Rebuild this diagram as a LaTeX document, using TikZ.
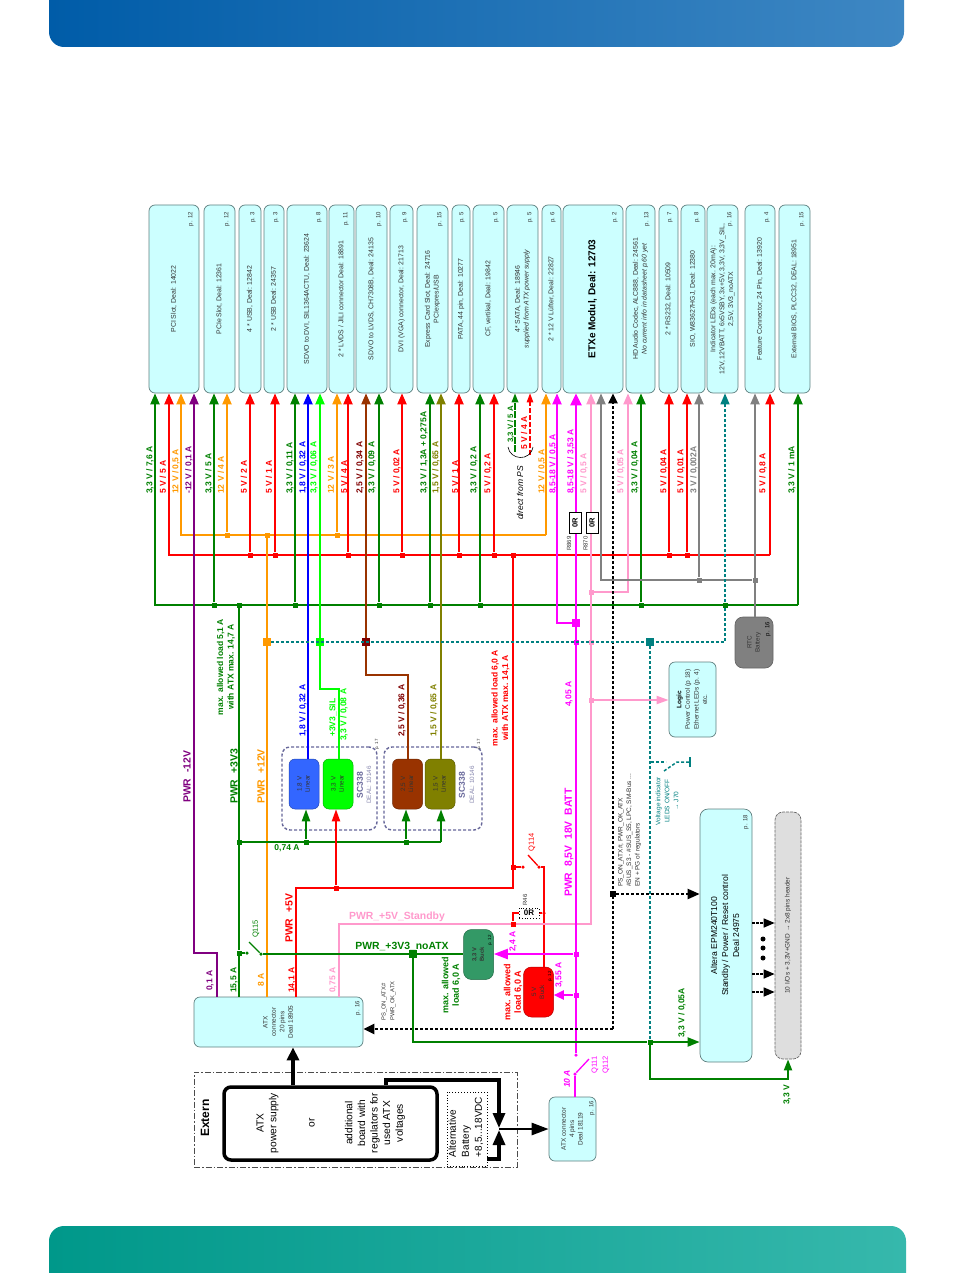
\documentclass[tikz,border=0pt]{standalone}
\usepackage{fontspec}
\setmainfont{Liberation Sans}
\usetikzlibrary{arrows.meta}
\definecolor{cG}{HTML}{008000}
\definecolor{cR}{HTML}{FF0000}
\definecolor{cO}{HTML}{FF9900}
\definecolor{cP}{HTML}{800080}
\definecolor{cB}{HTML}{0000FF}
\definecolor{cL}{HTML}{00FF00}
\definecolor{cBr}{HTML}{993300}
\definecolor{cDr}{HTML}{800000}
\definecolor{cOl}{HTML}{808000}
\definecolor{cM}{HTML}{FF00FF}
\definecolor{cK}{HTML}{FF99CC}
\definecolor{cY}{HTML}{808080}
\definecolor{cT}{HTML}{008080}
\definecolor{cFill}{HTML}{CCFFFF}
\definecolor{cEdge}{HTML}{5F7F7F}
\definecolor{cTxt}{HTML}{333333}
\definecolor{cSc}{HTML}{666699}
\definecolor{cRb}{HTML}{3366FF}
\definecolor{cSea}{HTML}{339966}
\definecolor{bnA}{HTML}{005CA8}
\definecolor{bnB}{HTML}{3E87C3}
\definecolor{bnC}{HTML}{00988A}
\definecolor{bnD}{HTML}{36B8AC}
\newcounter{lc}
\newcommand\fsz[2]{\fontsize{#1}{#2}\selectfont}
\newcommand\vt[1]{\rotatebox{90}{\begin{tabular}{@{}c@{}}#1\end{tabular}}}
\tikzset{
  box/.style={draw=cEdge,line width=0.7,fill=cFill,rounded corners=6,inner sep=0,text=cTxt,font=\fsz{6.9}{8.8}},
  wire/.style={line width=2,line join=miter},
  tip/.style={-{Triangle[length=11,width=9]}},
  jsq/.style={fill=#1,inner sep=0,minimum size=5,rectangle},
  jbig/.style={fill=#1,inner sep=0,minimum size=7.5,rectangle},
  jdot/.style={fill=#1,inner sep=0,minimum size=3.5,circle},
  vlab/.style={rotate=90,anchor=west,inner sep=0,font=\fsz{8.5}{10}\bfseries},
  vlabc/.style={rotate=90,anchor=center,inner sep=0,font=\fsz{8.5}{10.5}\bfseries,align=center},
  plab/.style={rotate=90,anchor=east,inner sep=0,font=\fsz{6}{7},text=cTxt},
  tdash/.style={draw=cT,line width=1.5,dash pattern=on 3 off 2},
  kdash/.style={draw=black,line width=2.2,dash pattern=on 3 off 2},
  reg/.style={draw=#1!70!black,line width=0.5,fill=#1,rounded corners=6,inner sep=0,minimum width=30,minimum height=50,text=black!80,font=\fsz{6.3}{8}},
  scbox/.style={draw=cSc,line width=1.4,dash pattern=on 3 off 2,rounded corners=8,inner sep=0},
  zeroR/.style={draw=black,line width=1,fill=white,inner sep=0,font=\fsz{7.5}{9}\bfseries,rotate=90,minimum width=21,minimum height=12},
  gtxt/.style={rotate=90,anchor=center,inner sep=0,font=\fsz{6}{8},text=cTxt,align=left}
}
\newcommand\topbox[5]{%
  \node[box,minimum width={(#3-#2)*1pt},minimum height=188] (#1) at ({(#2+#3)/2},299) {#5};
  \node[plab] (#1p) at ({#3-8},212) {p. #4};
}
\newcommand\vl[4]{\stepcounter{lc}\node[vlab,text=#1] (v\arabic{lc}) at (#2,#3) {#4};}
\begin{document}
\begin{tikzpicture}[x=1pt,y=-1pt]
\useasboundingbox (0,0) rectangle (955,1273);
% banners
\shade[left color=bnA,right color=bnB]
  (49,0) [rounded corners=15] -- (49,47) -- (904,47) [sharp corners] -- (904,0) -- cycle;
\shade[left color=bnC,right color=bnD]
  (49,1273) [rounded corners=15] -- (49,1226) -- (906,1226) [sharp corners] -- (906,1273) -- cycle;

% top boxes
\topbox{pci}{149}{199}{12}{\vt{PCI Slot, Deal: 14022}}
\topbox{pcie}{204}{235}{12}{\vt{PCIe Slot, Deal: 12361}}
\topbox{usba}{239}{261}{3}{\vt{4 * USB, Deal: 12842}}
\topbox{usbb}{264}{284}{3}{\vt{2 * USB Deal: 24357}}
\topbox{sdvo}{287}{327}{8}{\vt{SDVO to DVI, SIL1364ACTU, Deal: 23624}}
\topbox{lvds}{329}{354}{11}{\vt{2 * LVDS / JILI connector Deal: 18891}}
\topbox{slvds}{356}{387}{10}{\vt{SDVO to LVDS, CH7308B, Deal: 24135}}
\topbox{dvi}{390}{413}{9}{\vt{DVI (VGA) connector, Deal: 21713}}
\topbox{exp}{417}{448}{15}{\vt{Express Card Slot, Deal: 24716\\PCIexpres/USB}}
\topbox{pata}{452}{470}{5}{\vt{PATA, 44 pin, Deal: 10277}}
\topbox{cf}{473}{504}{5}{\vt{CF, vertikal, Deal: 19842}}
\topbox{sata}{507}{538}{5}{\vt{4* SATA, Deal: 18946\\ \itshape supplied from ATX power supply}}
\topbox{fan}{542}{561}{6}{\vt{2 * 12 V Lüfter, Deal: 22827}}
\topbox{etx}{563}{623}{2}{\vt{\fsz{10}{12}\bfseries\color{black}ETXe Modul, Deal: 12703}}
\topbox{hd}{626}{655}{13}{\vt{HD Audio Codec, ALC888, Deal: 24561\\ \itshape No current info in datasheet p.60 yet}}
\topbox{rs}{659}{678}{7}{\vt{2 * RS232, Deal: 10509}}
\topbox{sio}{681}{705}{8}{\vt{SIO, W83627HGJ, Deal: 12380}}
\topbox{ind}{707}{738}{16}{\vt{Indicator LEDs (each max. 20mA):\\12V, 12VBATT, 6x5VSBY, 3x+5V, 3,3V, 3,3V\_SIL,\\2,5V, 3V3\_noATX}}
\topbox{feat}{745}{775}{4}{\vt{Feature Connector, 24 Pin, Deal: 13920}}
\topbox{bios}{779}{810}{15}{\vt{External BIOS, PLCC32, DEAL: 18951}}

% lower boxes
\node[box,minimum width=169,minimum height=50,font=\fsz{6.5}{8.4}] (atx) at (278.5,1022) {\vt{ATX\\connector\\20 pins\\Deal 18905}};
\node[plab] (atxp) at (358,1001) {p. 16};
\node[box,minimum width=47,minimum height=64,font=\fsz{6.5}{8.4}] (atxb) at (572.5,1129) {\vt{ATX connector\\4 pins\\Deal 18119}};
\node[plab] (atxbp) at (592,1101) {p. 16};
\node[box,minimum width=47,minimum height=75,font=\fsz{6.5}{8.6}] (logic) at (692.5,699.5) {\vt{\bfseries\color{black}Logic\\Power Control (p 18)\\Ethernet LEDs (p. 4)\\etc.}};
\node[box,fill=cY,draw=black!60,minimum width=38,minimum height=51,rounded corners=8,font=\fsz{6.3}{8}] (rtc) at (754,642.5) {\vt{RTC\\Battery}};
\node[plab,text=black] (rtcp) at (768,622) {p. 16};
\node[box,minimum width=52,minimum height=253,rounded corners=8,font=\fsz{8.6}{11},text=black] (epm) at (726,935.5) {\vt{Altera EPM240T100\\Standby / Power / Reset control\\Deal 24975}};
\node[plab] (epmp) at (746,815) {p. 18};
\node[draw=black!60,line width=0.7,dash pattern=on 3 off 1,fill=black!13,rounded corners=8,inner sep=0,minimum width=26,minimum height=247,text=cTxt,font=\fsz{6.5}{8}] (hdr) at (788,935.5) {\vt{10 I/Os + 3,3V+GND → 2x8 pins header}};

% regulators
\node[reg=cRb] (r18) at (304,784) {\vt{1,8 V\\Linear}};
\node[reg=cL] (r33) at (338,784) {\vt{3,3 V\\Linear}};
\node[reg=cBr] (r25) at (407.5,784) {\vt{2,5 V\\Linear}};
\node[reg=cOl] (r15) at (440,784) {\vt{1,5 V\\Linear}};
\node[scbox,minimum width=95,minimum height=83] (sca) at (329.5,788.5) {};
\node[scbox,minimum width=98,minimum height=83] (scb) at (433,788.5) {};
\node[rotate=90,inner sep=0,text=cSc,font=\fsz{8.5}{10}\bfseries] (sca1) at (360,785) {SC338};
\node[rotate=90,inner sep=0,text=cSc!80,font=\fsz{6.3}{8}] (sca2) at (369,785) {DEAL: 10146};
\node[rotate=90,inner sep=0,text=cSc,font=\fsz{8.5}{10}\bfseries] (scb1) at (462,785) {SC338};
\node[rotate=90,inner sep=0,text=cSc!80,font=\fsz{6.3}{8}] (scb2) at (472,785) {DEAL: 10146};
\node[plab,font=\fsz{4.5}{5}] (scap) at (377,739) {p. 17};
\node[plab,font=\fsz{4.5}{5}] (scbp) at (479,739) {p. 17};
\node[reg=cSea,font=\fsz{5.8}{7.5}\bfseries,rounded corners=8] (bk33) at (478.5,954.5) {\vt{3,3 V\\Buck}};
\node[reg=cR,font=\fsz{6.3}{8},rounded corners=8] (bk5) at (538.5,992) {\vt{5 V\\Buck}};
\node[plab,font=\fsz{4.5}{5},text=black] (bk33p) at (490,935) {p. 12};
\node[plab,font=\fsz{4.5}{5},text=black] (bk5p) at (550,971) {p. 12};

% Extern
\node[draw=black!70,line width=0.8,dash pattern=on 6 off 2 on 1.5 off 2,inner sep=0,minimum width=323,minimum height=95] (ext) at (355.5,1119.5) {};
\node[draw=black,line width=3.5,rounded corners=7,inner sep=0,minimum width=213,minimum height=73] (psu) at (330.5,1123.5) {};
\node[draw=black,line width=0.9,dotted,inner sep=0,minimum width=40,minimum height=74] (alt) at (467,1129) {};
\node[rotate=90,inner sep=0,font=\fsz{12}{14}\bfseries] (extl) at (205,1118) {Extern};
\node[rotate=90,inner sep=0,align=center,font=\fsz{10.2}{12.6}] (pa) at (267.5,1123) {ATX\\power supply};
\node[rotate=90,inner sep=0,font=\fsz{10.2}{12.6}] (pb) at (312,1123) {or};
\node[rotate=90,inner sep=0,align=center,font=\fsz{10.2}{12.6}] (pc) at (375,1123) {additional\\board with\\regulators for\\used ATX\\voltages};
\node[rotate=90,inner sep=0,align=left,anchor=center,font=\fsz{10}{13}] (pd) at (466,1127) {Alternative\\Battery\\+8,5...18VDC};
% black power lines
\coordinate (ea) at (293,1060);
\draw[black,line width=3.6,-{Triangle[length=13,width=12]}] (ea |- psu.north) -- (ea |- atx.south);
\coordinate (e1) at (386,1080); \coordinate (e2) at (499,1080); \coordinate (e3) at (499,1129);
\coordinate (e4) at (487,1159); \coordinate (e5) at (499,1159);
\draw[black,line width=3.2,-{Triangle[length=15,width=12]}] (e1 |- psu.north) -- (e1) -- (e2) -- (499,1128);
\draw[black,line width=3.2,-{Triangle[length=15,width=12]}] (e4) -- (e5) -- (499,1130);
\draw[black,line width=2.6,-{Triangle[length=17,width=12]}] (e3) -- (e3 -| atxb.west);

% buses
\coordinate (oL) at (181,535); \coordinate (oR) at (546,535);
\coordinate (rL) at (169,555); \coordinate (rR) at (770,555);
\coordinate (gL) at (155,605); \coordinate (gR) at (798,605);
\draw[wire,cG,tip] (gR) -- (gL) -- (gL |- pci.south);
\draw[wire,cG,tip] (gL -| gR) -- (gR |- bios.south);
\draw[wire,cR,tip] (rR) -- (rL) -- (rL |- pci.south);
\draw[wire,cR,tip] (rL -| rR) -- (rR |- feat.south);
\draw[wire,cO,tip] (oR) -- (oL) -- (oL |- pci.south);
\draw[wire,cO,tip] (oL -| oR) -- (oR |- fan.south);

% purple
\coordinate (pu1) at (194,953); \coordinate (pu2) at (217,953);
\draw[wire,cP,tip] (pu2 |- atx.north) -- (pu2) -- (pu1) -- (pu1 |- pci.south);

% green taps
\foreach \n/\x/\b in {ga/214/pcie,gb/295/sdvo,gc/379/slvds,gd/430/exp,ge/480/cf,gf/641/hd}{
  \node[jsq=cG] (\n) at (\x,605) {};
  \draw[wire,cG,tip] (\n) -- (\n |- \b.south);
}
\node[jsq=cG] (gv) at (239,605) {};
\node[jsq=cG] (gs) at (239,953) {};
\node[jsq=cG] (g74) at (239,842) {};
\draw[wire,cG] (gv) -- (gs) -- (gs |- atx.north);
% red taps
\foreach \n/\x/\b in {ra/250/usba,rb/275/usbb,rc/348/lvds,rd/402/dvi,re/459/pata,rf/494/cf,rg/669/rs,rh/687/sio}{
  \node[jsq=cR] (\n) at (\x,555) {};
  \draw[wire,cR,tip] (\n) -- (\n |- \b.south);
}
% orange taps
\foreach \n/\x/\b in {oa/227/pcie,ob/337/lvds}{
  \node[jsq=cO] (\n) at (\x,535) {};
  \draw[wire,cO,tip] (\n) -- (\n |- \b.south);
}
\node[jsq=cO] (oc) at (267,535) {};
\draw[wire,cO] (oc) -- (oc |- atx.north);

% blue, lime, brown, olive
\coordinate (bl) at (308,500);
\draw[wire,cB,tip] (bl |- r18.north) -- (bl |- sdvo.south);
\coordinate (l1) at (320,689); \coordinate (l2) at (339,689);
\draw[wire,cL,tip] (l2 |- r33.north) -- (l2) -- (l1) -- (l1 |- sdvo.south);
\coordinate (b1) at (366,675); \coordinate (b2) at (408,675);
\draw[wire,cBr,tip] (b2 |- r25.north) -- (b2) -- (b1) -- (b1 |- slvds.south);
\coordinate (ol) at (441,500);
\draw[wire,cOl,tip] (ol |- r15.north) -- (ol |- exp.south);

% 0,74 A
\node[jsq=cG] (t1) at (306,842) {};
\node[jsq=cG] (t2) at (406,842) {};
\coordinate (t3) at (441,842);
\draw[wire,cG] (g74) -- (t3);
\draw[wire,cG,line width=2.2,-{Triangle[length=12,width=8]}] (t1) -- (t1 |- r18.south);
\draw[wire,cG,line width=2.2,-{Triangle[length=12,width=8]}] (t2) -- (t2 |- r25.south);
\draw[wire,cG,line width=2.2,-{Triangle[length=12,width=8]}] (t3) -- (t3 |- r15.south);

% red +5V
\coordinate (v1) at (296,888); \coordinate (v2) at (513,888);
\node[jsq=cR] (v0) at (513,555) {};
\node[jsq=cR] (v3) at (336,888) {};
\node[jsq=cR] (v4) at (513,867) {};
\draw[wire,cR] (v1 |- atx.north) -- (v1) -- (v2) -- (v0);
\draw[wire,cR,line width=2,-{Triangle[length=12,width=8]}] (v3) -- (v3 |- r33.south);
\node[jdot=cR] (q1) at (523,867) {};
\node[jdot=cR] (q2) at (539,867) {};
\coordinate (q0) at (528,855);
\coordinate (q3) at (544,867);
\draw[wire,cR,line width=1.5] (v4) -- (q1);
\draw[wire,cR,line width=1.3] (q0) -- (q2);
\draw[wire,cR] (q2) -- (q3) -- (q3 |- bk5.north);

% pink standby
\coordinate (k1) at (339,924); \coordinate (k2) at (591,924);
\draw[wire,cK,tip] (k1 |- atx.north) -- (k1) -- (k2) -- (k2 |- etx.south);
\node[jsq=cK] (k3) at (591,592) {};
\coordinate (k4) at (628,592);
\draw[wire,cK,tip] (k3) -- (k4) -- (k4 |- hd.south);
\node[jsq=cK] (k6) at (591,700) {};
\draw[wire,cK,-{Triangle[length=12,width=8]}] (k6) -- (k6 -| logic.west);
\node[jsq=cR] (r460) at (513,924) {};
\node[jdot=cR] (r462) at (544,913) {};
\coordinate (r461) at (513,913);
\draw[wire,cR] (r460) -- (r461) -- (r462);
\node[draw=black,line width=0.8,dotted,fill=white,inner sep=0,minimum width=20,minimum height=10,font=\fsz{8}{9}\bfseries] (r46) at (529,913) {0R};
\node[rotate=90,inner sep=0,font=\fsz{6}{7},text=cTxt] (r46l) at (525,900) {R46};

% magenta
\node[jdot=cM] (m0) at (576,1055) {};
\coordinate (mT) at (576,500);
\draw[wire,cM,line width=2.6,-{Triangle[length=12,width=11]}] (m0) -- (mT |- etx.south);
\node[jbig=cM] (m1) at (576,623) {};
\coordinate (m2) at (557,623);
\draw[wire,cM,tip] (m1) -- (m2) -- (m2 |- fan.south);
\node[jsq=cM] (m4) at (576,954) {};
\node[jsq=cM] (m5) at (576,995) {};
\draw[wire,cM,line width=2.2,-{Triangle[length=14,width=10]}] (m4) -- (m4 -| bk33.east);
\draw[wire,cM,line width=2.2,-{Triangle[length=10,width=9]}] (m5) -- (m5 -| bk5.east);
\node[jdot=cM] (m6) at (575,1074) {};
\coordinate (m7) at (589,1059);
\draw[wire,cM,line width=1.3] (m6) -- (m7);
\draw[wire,cM,line width=2.2] (m6) -- (m6 |- atxb.north);

% gray
\coordinate (y1) at (601,580);
\node[jsq=cY] (y2) at (699,580) {};
\node[jsq=cY] (y3) at (755,580) {};
\draw[wire,cY,tip] (y3) -- (y1) -- (y1 |- etx.south);
\draw[wire,cY,tip] (y2) -- (y2 |- sio.south);
\draw[wire,cY,tip] (y3 |- rtc.north) -- (y3 |- feat.south);

% black dashed
\coordinate (kk1) at (613,1029);
\coordinate (kkT) at (613,500);
\draw[kdash,-{Triangle[length=10,width=9]}] (kk1 -| kkT) -- (kkT |- etx.south);
\draw[kdash,-{Triangle[length=11,width=10]}] (kk1) -- (kk1 -| atx.east);
\node[jsq=black,minimum size=6] (kk2) at (613,894) {};
\draw[kdash,-{Triangle[length=12,width=10]}] (kk2) -- (kk2 -| epm.west);

% green noATX
\node[jsq=cG] (gn) at (650,1042) {};
\node[jdot=cG] (gs2) at (247,953) {};
\node[jdot=cG] (qs2) at (261,954) {};
\coordinate (qs1) at (249,942);
\draw[wire,cG,line width=1.4] (gs) -- (gs2);
\draw[wire,cG,line width=1.4] (qs1) -- (qs2);
\node[jbig=cG] (nA) at (413,954) {};
\draw[wire,cG] (qs2) -- (nA) -- (bk33.west |- nA);
\coordinate (n1) at (413,1042);
\draw[wire,cG] (nA) -- (n1) -- (gn);
\draw[wire,cG,-{Triangle[length=12,width=9]}] (gn) -- (gn -| epm.west);
\coordinate (n2) at (650,1079); \coordinate (n3) at (788,1079);
\draw[wire,cG,-{Triangle[length=11,width=8]}] (gn) -- (n2) -- (n3) -- (n3 |- hdr.south);

% EPM outputs
\foreach \n/\y in {ea/923,eb/974,ec/992}{
  \coordinate (\n) at (752,\y);
  \draw[draw=black,line width=1.6,dash pattern=on 2.5 off 1.5,-{Triangle[length=11,width=9]}] (\n) -- (\n -| hdr.west);
}
\foreach \n/\y in {da/939,db/948,dc/958}{
  \node[jdot=black,minimum size=5] (\n) at (763,\y) {};
}

% teal dashed
\node[jbig=cO] (d1) at (267,642) {};
\node[jbig=cL] (d2) at (320,642) {};
\node[jbig=cDr] (d3) at (366,642) {};
\node[jsq=cM] (m3) at (576,642) {};
\node[jsq=cK] (k5) at (591,642) {};
\node[jbig=cT] (d4) at (650,642) {};
\coordinate (d5) at (725,642);
\node[jsq=cG] (d6) at (725,605) {};
\draw[tdash] (d1) -- (d5) -- (d6);
\draw[tdash,-{Triangle[length=11,width=9]}] (d6) -- (d6 |- ind.south);
\draw[tdash] (d4) -- (gn);
\coordinate (s1) at (651,762); \coordinate (s2) at (666,762); \coordinate (s3) at (664,771); \coordinate (s4) at (677,762); \coordinate (s5) at (690,762);
\coordinate (s6) at (690,757); \coordinate (s7) at (690,767);
\draw[tdash] (s1) -- (s2);
\draw[tdash] (s3) -- (s4) -- (s5);
\draw[cT,line width=1.3] (s6) -- (s7);

% SATA direct lines
\coordinate (sg) at (515,452); \coordinate (sr) at (530,455);
\draw[cG,line width=1.8,dash pattern=on 7 off 1.5,-{Triangle[length=9,width=6.5]}] (sg) -- (sg |- sata.south);
\draw[cR,line width=1.1,dash pattern=on 5 off 2,-{Triangle[length=9,width=6.5]}] (sr) -- (sr |- sata.south);
\draw[black,line width=0.6] (508,447) .. controls (510,460) and (530,462) .. (533,447);

% 0R resistors
\node[zeroR] (r869) at (575,522.5) {0R};
\node[zeroR] (r870) at (592,523) {0R};
\node[gtxt] (r869l) at (569,543.5) {R869};
\node[gtxt] (r870l) at (585.5,543.5) {R870};

% voltage labels
\vl{cG}{150}{494}{3,3 V / 7,6 A}
\vl{cR}{163}{494}{5 V / 5 A}
\vl{cO}{176}{494}{12 V / 0,5 A}
\vl{cP}{189}{494}{-12 V / 0,1 A}
\vl{cG}{209}{494}{3,3 V / 5 A}
\vl{cO}{221}{494}{12 V / 4 A}
\vl{cR}{244}{494}{5 V / 2 A}
\vl{cR}{269}{494}{5 V / 1 A}
\vl{cG}{290}{494}{3,3 V / 0,11 A}
\vl{cB}{303}{494}{1,8 V / 0,32 A}
\vl{cL}{314}{494}{3,3 V / 0,06 A}
\vl{cO}{331}{494}{12 V / 3 A}
\vl{cR}{344}{494}{5 V / 4 A}
\vl{cDr}{360}{494}{2,5 V / 0,34 A}
\vl{cG}{372}{494}{3,3 V / 0,09 A}
\vl{cR}{397}{494}{5 V / 0,02 A}
\vl{cG}{424}{494}{3,3 V / 1,3A + 0,275A}
\vl{cOl}{436}{494}{1,5 V / 0,65 A}
\vl{cR}{455}{494}{5 V / 1 A}
\vl{cG}{474}{494}{3,3 V / 0,2 A}
\vl{cR}{488}{494}{5 V / 0,2 A}
\node[vlab,text=cG,font=\fsz{7.8}{9}\bfseries] (sa1) at (511,443) {3,3 V / 5 A};
\vl{cR}{524}{450}{5 V / 4 A}
\vl{cO}{542}{494}{12 V / 0,5 A}
\vl{cM}{553}{494}{8,5-18 V / 0,5 A}
\vl{cM}{571}{494}{8,5-18 V / 3,53 A}
\vl{cK}{584}{494}{5 V / 0,5 A}
\vl{cK}{621}{494}{5 V / 0,05 A}
\vl{cG}{635}{494}{3,3 V / 0,04 A}
\vl{cR}{664}{494}{5 V / 0,04 A}
\vl{cR}{681}{494}{5 V / 0,01 A}
\vl{cY}{694}{494}{3 V / 0,002A}
\vl{cR}{763}{494}{5 V / 0,8 A}
\vl{cG}{792}{494}{3,3 V / 1 mA}
\node[rotate=90,anchor=west,inner sep=0,font=\fsz{8.5}{10}\itshape] (dps) at (520,520) {direct from PS};

% lower voltage labels
\vl{cB}{303}{737}{1,8 V / 0,32 A}
\vl{cL}{333}{737}{+3V3\_SIL}
\vl{cL}{344}{741}{3,3 V / 0,08 A}
\vl{cDr}{402}{737}{2,5 V / 0,36 A}
\vl{cOl}{434}{737}{1,5 V / 0,65 A}
\vl{cM}{569}{707}{4,05 A}
\vl{cG}{234}{993}{15,5 A}
\vl{cO}{261}{987}{8 A}
\vl{cR}{292}{993}{14,1 A}
\vl{cK}{333}{993}{0,75 A}
\vl{cP}{210}{991}{0,1 A}
\vl{cM}{513}{952}{2,4 A}
\vl{cM}{559}{988}{3,55 A}
\vl{cG}{682}{1038}{3,3 V / 0,05A}
\vl{cG}{787}{1105}{3,3 V}
\node[vlab,text=cM,font=\fsz{8.5}{10}\bfseries\itshape] (l10a) at (567,1088) {10 A};
\node[vlabc,text=cG] (tmg) at (226,667) {max. allowed load 5,1 A\\with ATX max. 14,7 A};
\node[vlabc,text=cR] (tmr) at (500.5,698) {max. allowed load 6,0 A\\with ATX max. 14,1 A};
\node[vlabc,text=cG,font=\fsz{9}{10.5}\bfseries] (tbg) at (451,985) {max. allowed\\load 6,0 A};
\node[vlabc,text=cR,font=\fsz{9}{10.5}\bfseries] (tbr) at (513,992) {max. allowed\\load 6,0 A};
\tikzset{pwr/.style={vlab,font=\fsz{10.4}{12}\bfseries}}
\node[pwr,text=cP] (pa1) at (187,803) {PWR~~-12V};
\node[pwr,text=cG] (pa2) at (234,804) {PWR~~+3V3};
\node[pwr,text=cO] (pa3) at (261,804) {PWR~~+12V};
\node[pwr,text=cR] (pa4) at (289,943) {PWR~~+5V};
\node[pwr,text=cM] (pa5) at (569,897) {PWR~~8,5V~~18V~~BATT};
\node[inner sep=0,text=cK,font=\fsz{10.4}{12}\bfseries] (stby) at (397,917) {PWR\_+5V\_Standby};
\node[inner sep=0,text=cG,font=\fsz{10.4}{12}\bfseries] (noatx) at (402,946) {PWR\_+3V3\_noATX};
\node[inner sep=0,text=cG,font=\fsz{8.5}{10}\bfseries] (l74) at (287,848) {0,74 A};
\node[rotate=90,inner sep=0,text=cG,font=\fsz{7.5}{9}] (q115) at (256,929) {Q115};
\node[rotate=90,inner sep=0,text=cR,font=\fsz{7.5}{9}] (q114) at (532,842.5) {Q114};
\node[rotate=90,inner sep=0,align=center,text=cM,font=\fsz{7.5}{11}] (q111) at (600.5,1065) {Q111\\Q112};
\node[gtxt,font=\fsz{5.8}{8.6}] (pson) at (388.5,1001) {PS\_ON\_ATX\#\\PWR\_OK\_ATX};
\node[rotate=90,anchor=west,inner sep=0,align=left,text=cTxt,font=\fsz{6.5}{8.6}] (psinfo) at (629.5,887) {PS\_ON\_ATX\#, PWR\_OK\_ATX\\\#SUS\_S3 - \#SUS\_S5, LPC, SM-Bus ...\\EN + PG of regulators};
\node[rotate=90,inner sep=0,align=center,text=cT,font=\fsz{6.5}{9}] (volt) at (667,801) {Voltage indicator\\LEDS ON/OFF\\→ J70};
\end{tikzpicture}
\end{document}
